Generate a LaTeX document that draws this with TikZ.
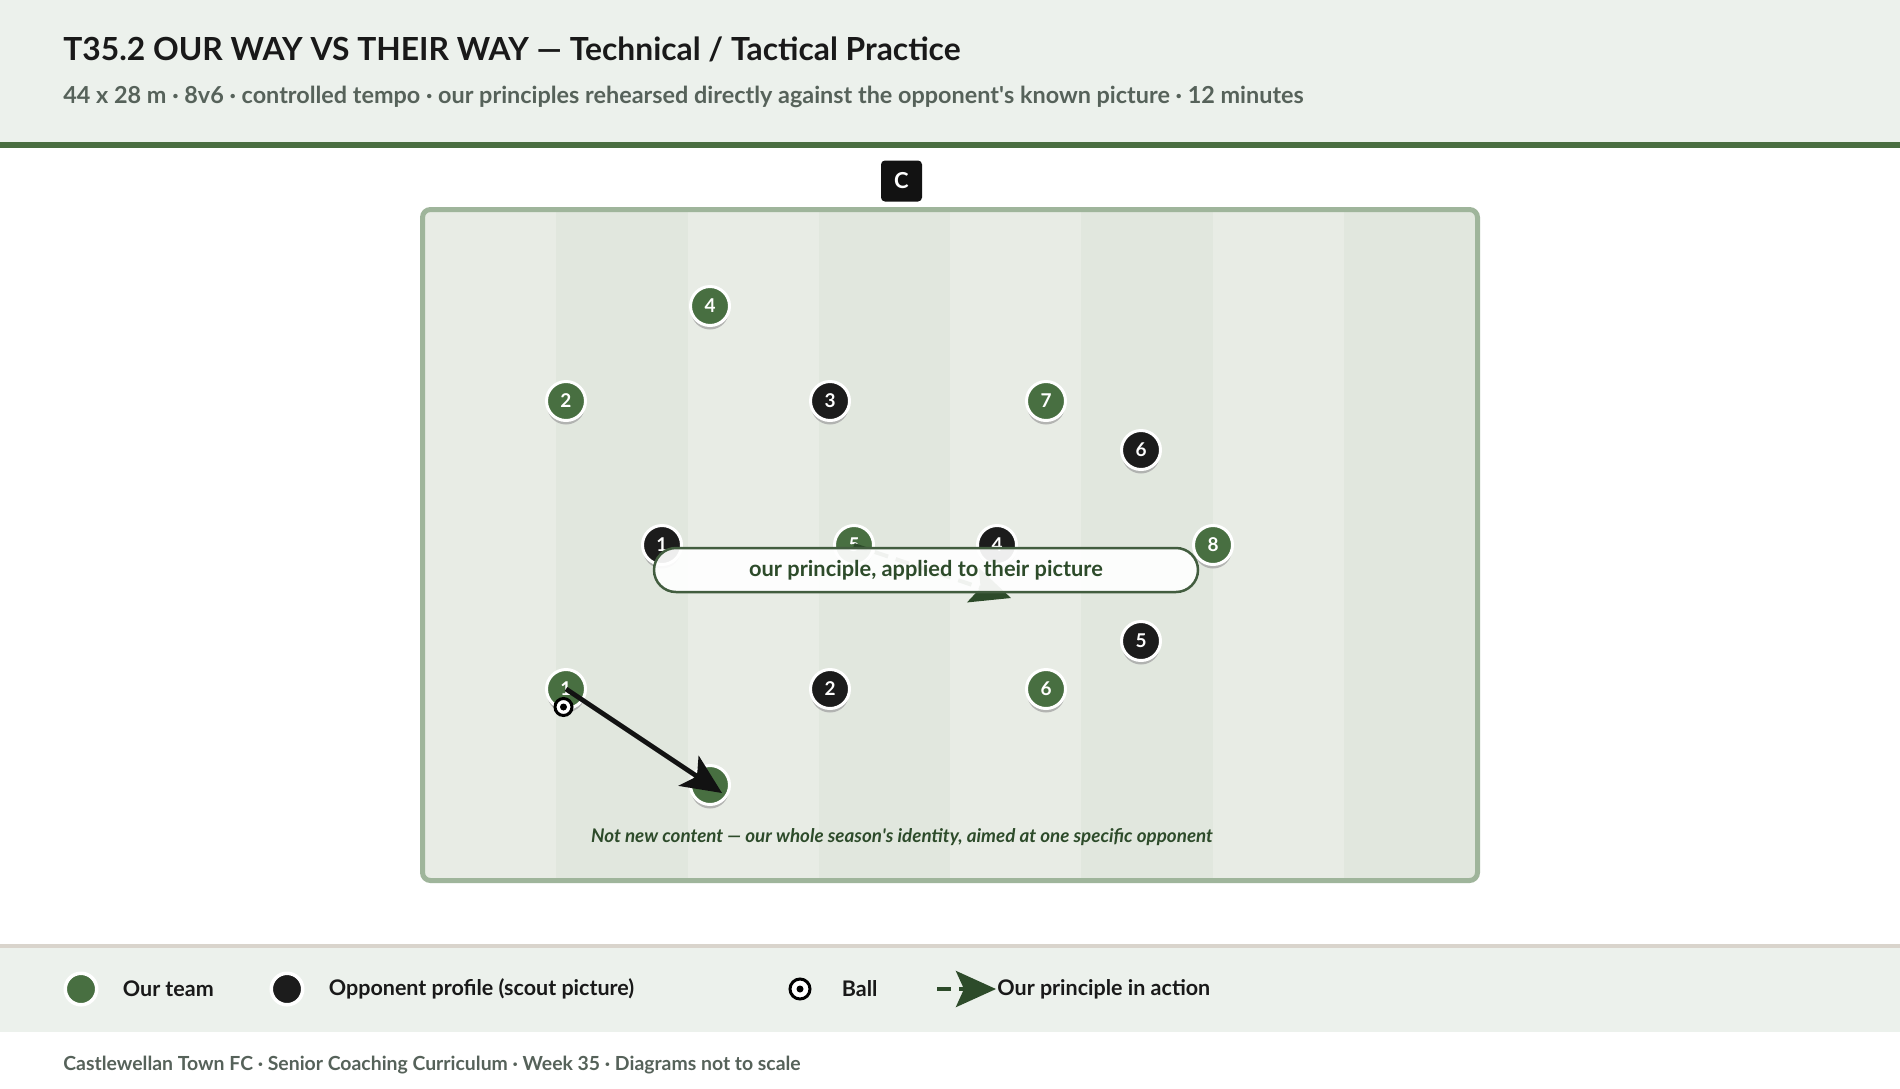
\documentclass[tikz,border=0pt]{standalone}
\usepackage{fontspec}
\setmainfont{Lato}
\usetikzlibrary{positioning,arrows.meta,calc}
\definecolor{headbg}{HTML}{ECF1EC}
\definecolor{headline}{HTML}{4A6E41}
\definecolor{keyline}{HTML}{D9D4CC}
\definecolor{pitchlight}{HTML}{E8ECE5}
\definecolor{pitchdark}{HTML}{E1E7DE}
\definecolor{pitchline}{HTML}{9FB59B}
\definecolor{ourgreen}{HTML}{486F41}
\definecolor{oppblack}{HTML}{1C1C1C}
\definecolor{deepgreen}{HTML}{2D4B2A}
\definecolor{subgrey}{HTML}{56625A}

\begin{document}
\begin{tikzpicture}[x=0.5pt, y=-0.5pt,
    player/.style={circle, draw=white, line width=1.5pt, minimum size=19.5pt, inner sep=0pt,
      text=white, font=\bfseries\fontsize{9.5}{9.5}\selectfont},
    us/.style={player, fill=ourgreen},
    them/.style={player, fill=oppblack},
    keydot/.style={circle, draw=white, line width=1.75pt, minimum size=15.75pt, inner sep=0pt},
    keytext/.style={inner sep=0pt, text=black!90, font=\bfseries\fontsize{10.75}{12}\selectfont},
    ball/.style={circle, draw=black, fill=white, line width=1.5pt, minimum size=8.5pt, inner sep=0pt,
      path picture={\fill[black] (path picture bounding box.center) circle (1.75pt);}},
    runarrow/.style={line width=2.4pt, black!93, -{Stealth[length=20pt, width=18pt, inset=5pt]}},
    principle/.style={line width=2pt, deepgreen, dash pattern=on 7pt off 4pt,
      -{Stealth[length=20pt, width=18pt, inset=4pt]}},
    callout/.style={draw=deepgreen!90!white, line width=1.25pt, fill=white, fill opacity=0.93, text opacity=1,
      rounded corners=11pt, minimum width=272pt, minimum height=22pt, text=deepgreen,
      font=\bfseries\fontsize{10.9}{12}\selectfont}]
  \useasboundingbox (0,0) rectangle (1900,1088);
  \fill[white] (0,0) rectangle (1900,1088);
  % header
  \fill[headbg] (0,0) rectangle (1900,142);
  \fill[headline] (0,142) rectangle (1900,148);
  \node[anchor=base west, inner sep=0pt, text=black!90, font=\bfseries\fontsize{15.9}{18}\selectfont]
    (title) at (63,60) {T35.2 OUR WAY VS THEIR WAY — Technical / Tactical Practice};
  \node[anchor=base west, inner sep=0pt, text=subgrey, font=\bfseries\fontsize{11.7}{13}\selectfont]
    (subtitle) at (63,103) {44 x 28 m · 8v6 · controlled tempo · our principles rehearsed directly against the opponent\textquotesingle s known picture · 12 minutes};
  % pitch
  \fill[pitchlight, rounded corners=4pt] (422.5,209.5) rectangle (1477.5,880.5);
  \begin{scope}
    \clip (425,212) rectangle (1475,878);
    \foreach \i in {1,3,5,7}
      \fill[pitchdark] (425+131.25*\i,212) rectangle (556.25+131.25*\i,878);
  \end{scope}
  \draw[pitchline, line width=2.5pt, rounded corners=4pt] (422.5,209.5) rectangle (1477.5,880.5);
  \node[fill=black!93, rounded corners=2pt, minimum size=20.5pt, inner sep=0pt, text=white,
    font=\bfseries\fontsize{11}{11}\selectfont] (zone) at (901.5,181) {C};
  % players
  \foreach \n/\s/\x/\y/\lab in {us4/us/710/306/4, us2/us/566/401/2, them3/them/830/401/3,
      us7/us/1046/401/7, them6/them/1141/450/6, them1/them/662/545/1, us5/us/854/545/5,
      them4/them/997/545/4, us8/us/1213/545/8, them5/them/1141/641/5, us1/us/566/689/1,
      them2/them/830/689/2, us6/us/1046/689/6, usrun/us/710/785/{}}{
    \fill[black!35, opacity=0.8] (\x,\y+4.5) circle (9.5pt);
    \node[\s] (\n) at (\x,\y) {\lab};
  }
  \coordinate (aimend) at (1011,598);
  \draw[principle] (us5.center) -- (aimend);
  \node[callout] (tag) at (926,570) {our principle, applied to their picture};
  \node[ball] (ball) at (563.5,707) {};
  \coordinate (runend) at (722,793);
  \draw[runarrow] (us1.center) -- (runend);
  \node[anchor=base, inner sep=0pt, text=deepgreen, font=\bfseries\itshape\fontsize{9.4}{10}\selectfont]
    (note) at (902,842.5) {Not new content — our whole season\textquotesingle s identity, aimed at one specific opponent};
  % key
  \fill[keyline] (0,944) rectangle (1900,948);
  \fill[headbg] (0,948) rectangle (1900,1032);
  \node[keydot, fill=ourgreen] (keyus) at (81,989) {};
  \node[keytext, right=12pt of keyus] (keyustxt) {Our team};
  \node[keydot, fill=oppblack] (keythem) at (287,989) {};
  \node[keytext, right=12pt of keythem] (keythemtxt) {Opponent profile (scout picture)};
  \node[ball, minimum size=10pt] (keyball) at (800,989) {};
  \node[keytext, right=15pt of keyball] (keyballtxt) {Ball};
  \coordinate (keyarrowa) at (937,989);
  \coordinate (keyarrowb) at (996,989);
  \draw[principle] (keyarrowa) -- (keyarrowb);
  \node[keytext, right=0.5pt of keyarrowb] (keyarrowtxt) {Our principle in action};
  \node[anchor=base west, inner sep=0pt, text=subgrey, font=\bfseries\fontsize{9.7}{11}\selectfont]
    (footer) at (63,1070) {Castlewellan Town FC · Senior Coaching Curriculum · Week 35 · Diagrams not to scale};
\end{tikzpicture}
\end{document}
